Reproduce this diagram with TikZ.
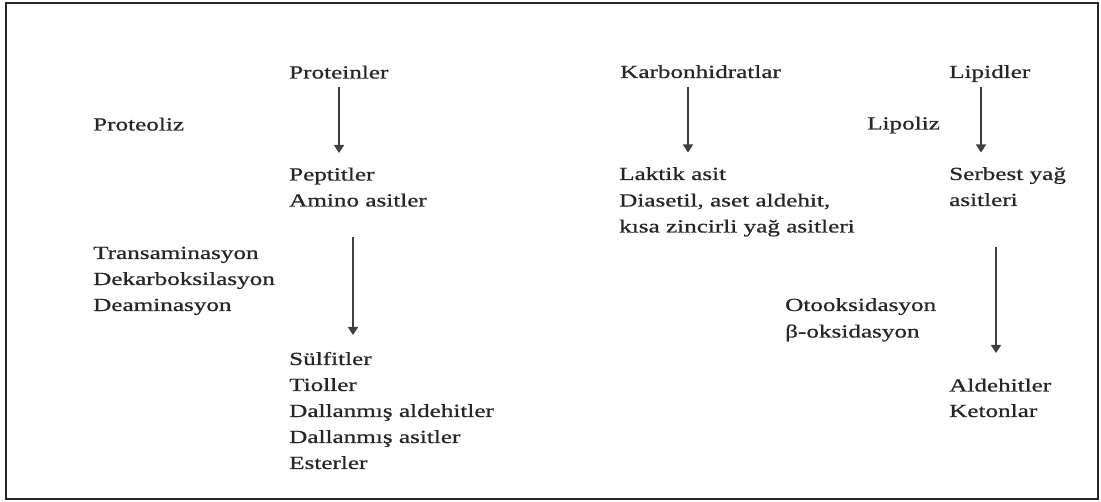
\documentclass[tikz,border=0pt]{standalone}
\usepackage{fontspec}
\setmainfont[FakeStretch=1.36,FakeBold=0.8]{Liberation Serif}
\usetikzlibrary{arrows.meta}
\begin{document}
\begin{tikzpicture}[x=1pt,y=-1pt,
  lbl/.style={anchor=base west,inner sep=0pt,text=black!85,font=\fontsize{18.5}{22}\selectfont},
  flow/.style={draw=black!75,line width=1.6pt,-{Triangle[width=10pt,length=8pt]}}]
\useasboundingbox (0,0) rectangle (1101,502);
\draw[line width=2pt,black!85] (6,3.5) rectangle (1098,499.5);
% left column
\node[lbl] (proteoliz) at (93,130.5) {Proteoliz};
\node[lbl] (trans) at (93,259) {Transaminasyon};
\node[lbl] (dekarb) at (93,285) {Dekarboksilasyon};
\node[lbl] (deamin) at (93,311) {Deaminasyon};
% protein column
\node[lbl] (prot) at (289,78.5) {Proteinler};
\node[lbl] (pept) at (289,180.5) {Peptitler};
\node[lbl] (amino) at (289,206.5) {Amino asitler};
\node[lbl] (sulf) at (289,365) {Sülfitler};
\node[lbl] (tiol) at (289,391) {Tioller};
\node[lbl] (dalald) at (289,417) {Dallanmış aldehitler};
\node[lbl] (dalas) at (289,443) {Dallanmış asitler};
\node[lbl] (ester) at (289,469) {Esterler};
% carbohydrate column
\node[lbl] (karb) at (620,78) {Karbonhidratlar};
\node[lbl] (laktik) at (619,180) {Laktik asit};
\node[lbl] (diasetil) at (619,206.5) {Diasetil, aset aldehit,};
\node[lbl] (kisa) at (619,232.5) {kısa zincirli yağ asitleri};
% lipid column
\node[lbl] (lip) at (949,78) {Lipidler};
\node[lbl] (lipoliz) at (867,129.5) {Lipoliz};
\node[lbl] (serbest) at (949,180) {Serbest yağ};
\node[lbl] (asitleri) at (949,206) {asitleri};
\node[lbl] (otoox) at (785,311) {Otooksidasyon};
\node[lbl] (betaox) at (785,337.5) {β-oksidasyon};
\node[lbl] (aldeh) at (949,391.5) {Aldehitler};
\node[lbl] (keton) at (949,417) {Ketonlar};
% arrow end points
\coordinate (a1s) at (339,87);  \coordinate (a1e) at (339,153);
\coordinate (a2s) at (353,237); \coordinate (a2e) at (353,335);
\coordinate (a3s) at (688,87);  \coordinate (a3e) at (688,152.5);
\coordinate (a4s) at (981,87);  \coordinate (a4e) at (981,152.5);
\coordinate (a5s) at (996,247); \coordinate (a5e) at (996,353);
\draw[flow] (a1s) -- (a1e);
\draw[flow] (a2s) -- (a2e);
\draw[flow] (a3s) -- (a3e);
\draw[flow] (a4s) -- (a4e);
\draw[flow] (a5s) -- (a5e);
\end{tikzpicture}
\end{document}
